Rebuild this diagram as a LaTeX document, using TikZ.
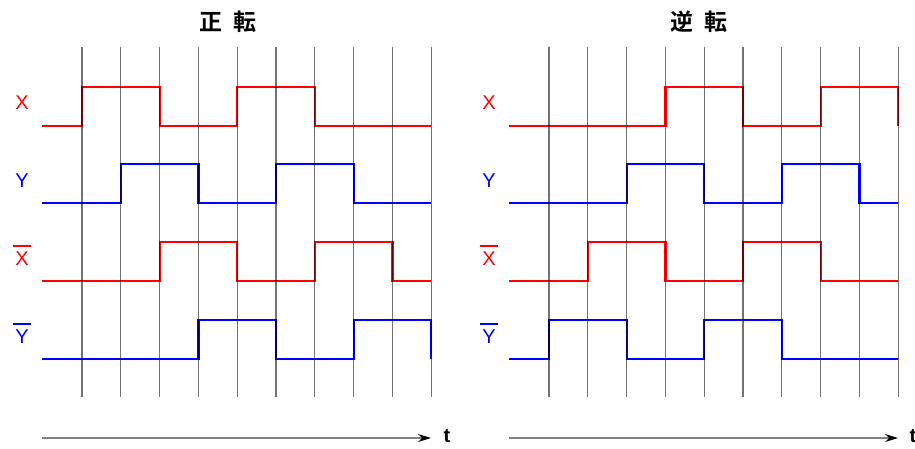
\documentclass[tikz,border=0pt]{standalone}
\usepackage{fontspec}
\setmainfont{Liberation Sans}
\newfontfamily\jpfont{Noto Sans CJK JP}[BoldFont=* Bold]
\usetikzlibrary{arrows.meta}
\definecolor{sigred}{RGB}{255,0,0}
\definecolor{sigblue}{RGB}{0,0,255}
\tikzset{
  gridline/.style={draw=black, opacity=0.55, line width=1.2pt},
  redsig/.style={draw=sigred, line width=2.2pt},
  bluesig/.style={draw=sigblue, line width=2.2pt},
  lbl/.style={inner sep=0pt, font=\fontsize{20}{20}\selectfont},
  barline/.style={line width=2pt},
  title/.style={inner sep=0pt, font=\jpfont\bfseries\fontsize{23}{23}\selectfont},
  timearrow/.style={draw=black!50, line width=1.4pt, -{Stealth[length=13pt,width=8pt,color=black]}},
  tlabel/.style={inner sep=0pt, font=\bfseries\fontsize{20}{20}\selectfont}
}
\begin{document}
\begin{tikzpicture}[x=1pt,y=-1pt]
\useasboundingbox (0,0) rectangle (915,448);

% ---------- left panel: forward ----------
\begin{scope}
\node[title] (tl) at (228,22) {正\hspace{0.45em}転};
\node[lbl, text=sigred] (lx) at (22,103) {X};
\node[lbl, text=sigblue] (ly) at (22,181) {Y};
\node[lbl, text=sigred] (lxb) at (22,259) {X};
\node[lbl, text=sigblue] (lyb) at (22,337) {Y};
\draw[barline, sigred] ([xshift=-2pt,yshift=6pt]lxb.north west) -- ([xshift=2pt,yshift=6pt]lxb.north east);
\draw[barline, sigblue] ([xshift=-2pt,yshift=6pt]lyb.north west) -- ([xshift=2pt,yshift=6pt]lyb.north east);

\draw[redsig] (42,126) -- (82,126) -- (82,87) -- (159.6,87) -- (159.6,126) -- (237.2,126) -- (237.2,87) -- (314.8,87) -- (314.8,126) -- (431.2,126);
\draw[bluesig] (42,203) -- (120.8,203) -- (120.8,164) -- (198.4,164) -- (198.4,203) -- (276,203) -- (276,164) -- (353.6,164) -- (353.6,203) -- (431.2,203);
\draw[redsig] (42,281) -- (159.6,281) -- (159.6,242) -- (237.2,242) -- (237.2,281) -- (314.8,281) -- (314.8,242) -- (392.4,242) -- (392.4,281) -- (431.2,281);
\draw[bluesig] (42,359) -- (198.4,359) -- (198.4,320) -- (276,320) -- (276,359) -- (353.6,359) -- (353.6,320) -- (431.2,320) -- (431.2,359);

\foreach \i in {0,...,9} {
  \draw[gridline] ({82+38.8*\i},47) -- ({82+38.8*\i},397);
}
\coordinate (la0) at (42,438);
\coordinate (la1) at (431,438);
\draw[timearrow] (la0) -- (la1);
\node[tlabel] (lt) at (447,436) {t};
\end{scope}

% ---------- right panel: reverse ----------
\begin{scope}[xshift=467pt]
\node[title] (tr) at (232,22) {逆\hspace{0.45em}転};
\node[lbl, text=sigred] (rx) at (22,103) {X};
\node[lbl, text=sigblue] (ry) at (22,181) {Y};
\node[lbl, text=sigred] (rxb) at (22,259) {X};
\node[lbl, text=sigblue] (ryb) at (22,337) {Y};
\draw[barline, sigred] ([xshift=-2pt,yshift=6pt]rxb.north west) -- ([xshift=2pt,yshift=6pt]rxb.north east);
\draw[barline, sigblue] ([xshift=-2pt,yshift=6pt]ryb.north west) -- ([xshift=2pt,yshift=6pt]ryb.north east);

\draw[redsig] (42,126) -- (198.4,126) -- (198.4,87) -- (276,87) -- (276,126) -- (353.6,126) -- (353.6,87) -- (431.2,87) -- (431.2,126);
\draw[bluesig] (42,203) -- (159.6,203) -- (159.6,164) -- (237.2,164) -- (237.2,203) -- (314.8,203) -- (314.8,164) -- (392.4,164) -- (392.4,203) -- (431.2,203);
\draw[redsig] (42,281) -- (120.8,281) -- (120.8,242) -- (198.4,242) -- (198.4,281) -- (276,281) -- (276,242) -- (353.6,242) -- (353.6,281) -- (431.2,281);
\draw[bluesig] (42,359) -- (82,359) -- (82,320) -- (159.6,320) -- (159.6,359) -- (237.2,359) -- (237.2,320) -- (314.8,320) -- (314.8,359) -- (431.2,359);

\foreach \i in {0,...,9} {
  \draw[gridline] ({82+38.8*\i},47) -- ({82+38.8*\i},397);
}
\coordinate (ra0) at (42,438);
\coordinate (ra1) at (431,438);
\draw[timearrow] (ra0) -- (ra1);
\node[tlabel] (rt) at (446,436) {t};
\end{scope}
\end{tikzpicture}
\end{document}
